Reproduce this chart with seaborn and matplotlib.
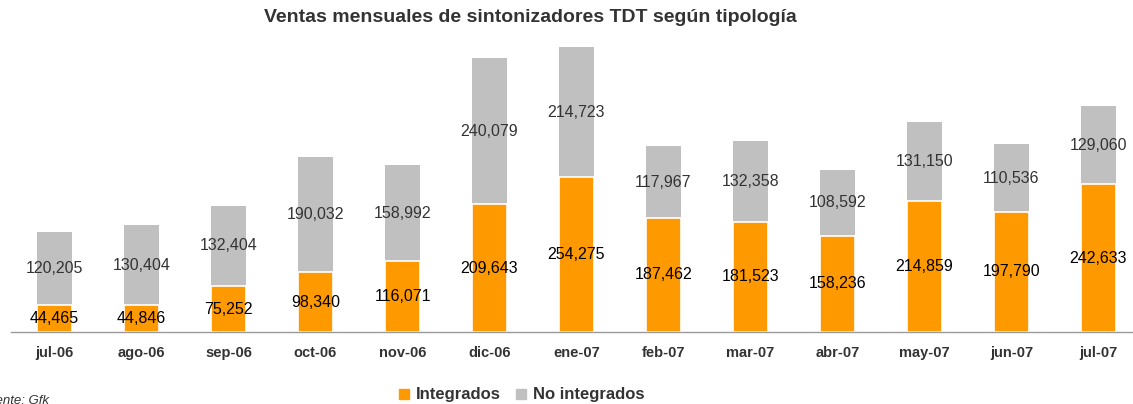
import matplotlib
matplotlib.use("Agg")
import matplotlib.pyplot as plt
from matplotlib.lines import Line2D
import seaborn as sns
import pandas as pd

# Data
meses = ["jul-06", "ago-06", "sep-06", "oct-06", "nov-06", "dic-06", "ene-07",
         "feb-07", "mar-07", "abr-07", "may-07", "jun-07", "jul-07"]
integrados = [44465, 44846, 75252, 98340, 116071, 209643, 254275,
              187462, 181523, 158236, 214859, 197790, 242633]
no_integrados = [120205, 130404, 132404, 190032, 158992, 240079, 214723,
                 117967, 132358, 108592, 131150, 110536, 129060]

df = pd.DataFrame({"mes": meses, "Integrados": integrados, "No integrados": no_integrados})
df["total"] = df["Integrados"] + df["No integrados"]

ORANGE = "#FF9900"
GREY = "#C0C0C0"

sns.set_style("white")
plt.rcParams["font.family"] = ["Liberation Sans", "DejaVu Sans"]

fig = plt.figure(figsize=(11.33, 4.04), dpi=100)
ax = fig.add_axes([11 / 1133, 72 / 404, 1131 / 1133, 292 / 404])

# Stacked bars: total in grey, integrated part in orange on top of it
sns.barplot(data=df, x="mes", y="total", color=GREY, width=0.4, saturation=1,
            linewidth=0, ax=ax)
sns.barplot(data=df, x="mes", y="Integrados", color=ORANGE, width=0.4, saturation=1,
            edgecolor="white", linewidth=1.2, ax=ax)

# Value labels centred in each segment
for i, row in df.iterrows():
    ax.text(i, row["Integrados"] / 2, f"{row['Integrados']:,}", ha="center", va="center",
            fontsize=11.5, color="black")
    ax.text(i, row["Integrados"] + row["No integrados"] / 2, f"{row['No integrados']:,}",
            ha="center", va="center", fontsize=11.5, color="#333333")

ax.set_xlim(-0.5, len(meses) - 0.5)
ax.set_ylim(0, 480000)
ax.set_xlabel("")
ax.set_ylabel("")
ax.set_yticks([])
ax.set_xticks(range(len(meses)))
ax.set_xticklabels(meses, fontsize=10.5, fontweight="bold", color="#333333")
ax.set_xticks([k + 0.5 for k in range(-1, len(meses))], minor=True)
ax.tick_params(axis="x", which="major", length=0, pad=10)
ax.tick_params(axis="x", which="minor", length=4, width=1, color="#999999", direction="out")
for s in ["top", "left", "right"]:
    ax.spines[s].set_visible(False)
ax.spines["bottom"].set_color("#999999")
ax.spines["bottom"].set_linewidth(1)

fig.text(530 / 1133, 1 - 18 / 404, "Ventas mensuales de sintonizadores TDT según tipología",
         ha="center", va="center", fontsize=14, fontweight="bold", color="#333333")

handles = [Line2D([], [], marker="s", linestyle="", color=ORANGE, markersize=7),
           Line2D([], [], marker="s", linestyle="", color=GREY, markersize=7)]
fig.legend(handles, ["Integrados", "No integrados"], loc="center",
           bbox_to_anchor=(521 / 1133, 1 - 395 / 404), ncol=2, frameon=False,
           handletextpad=0.3, columnspacing=0.8, handlelength=0.8,
           prop={"weight": "bold", "size": 12}, labelcolor="#333333")

fig.text(-20 / 1133, 1 - 401 / 404, "Fuente: Gfk", ha="left", va="center",
         fontsize=9.5, style="italic", color="#333333")

fig.savefig("out.png", dpi=100)
